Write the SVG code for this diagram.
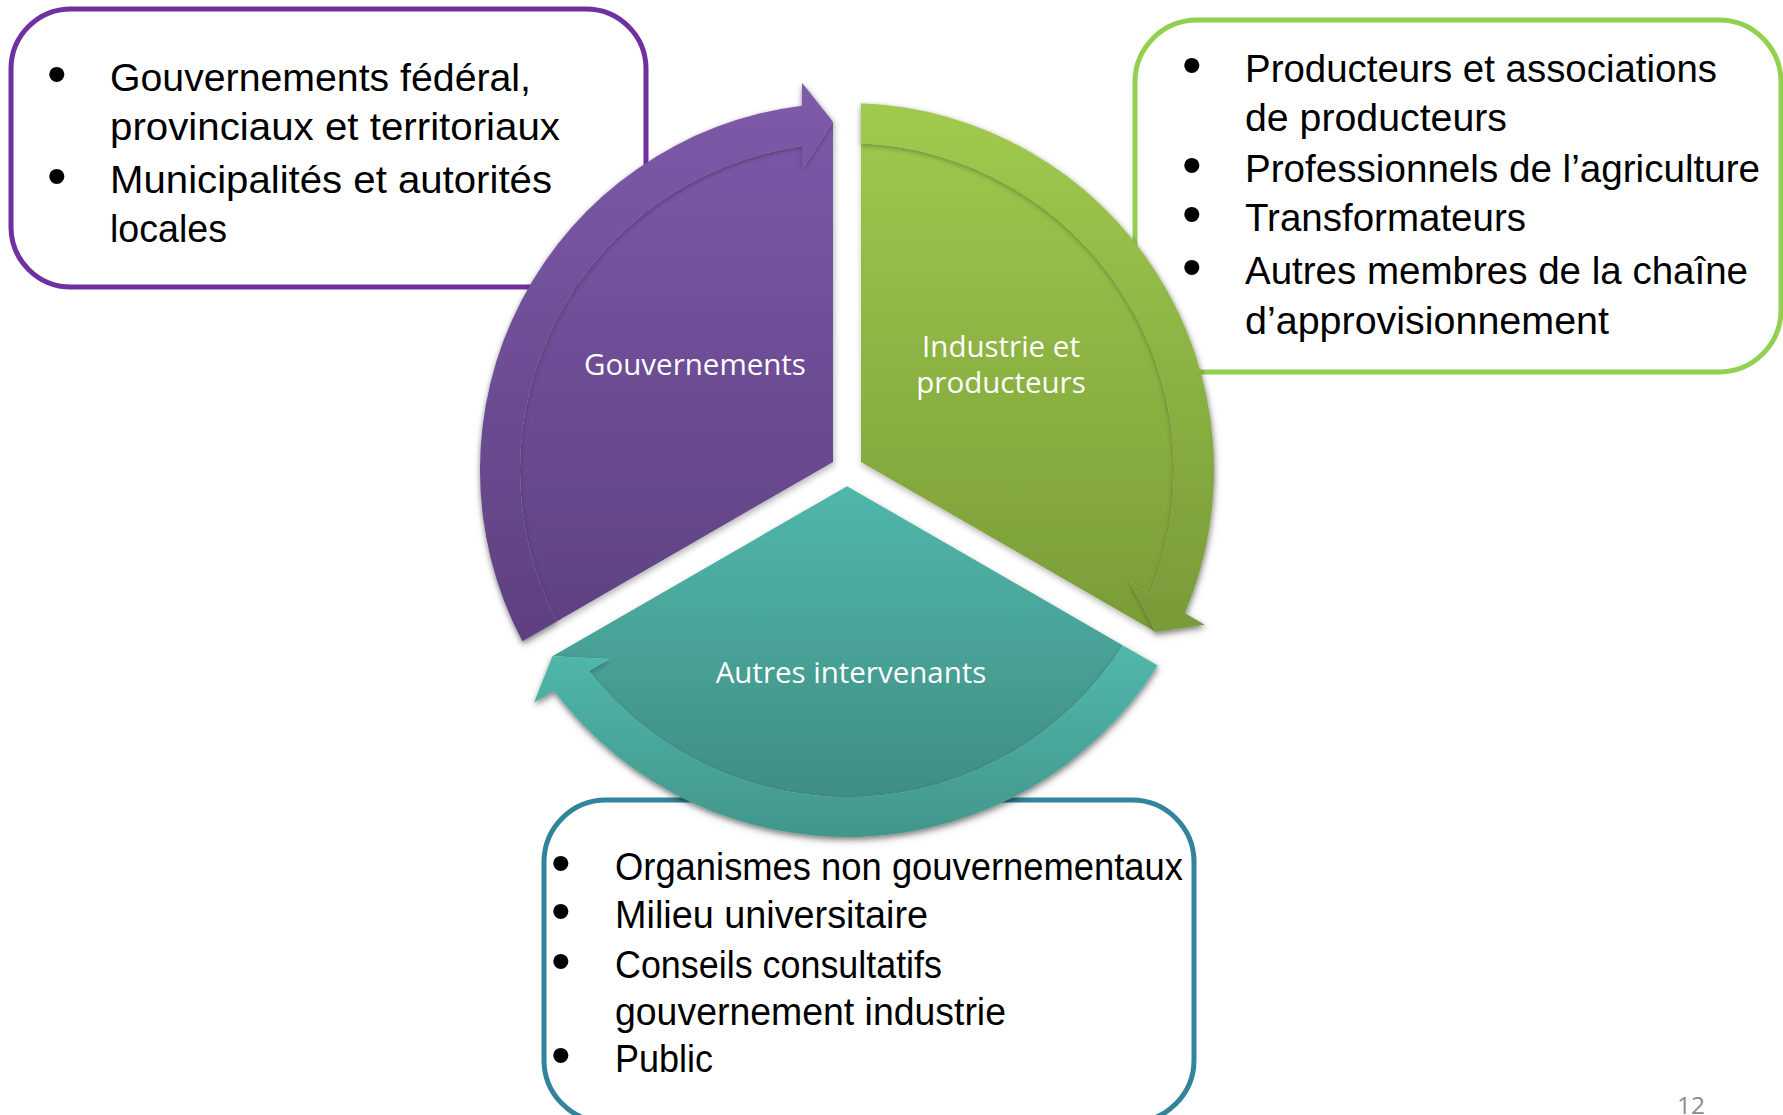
<svg xmlns="http://www.w3.org/2000/svg" width="1783" height="1115" viewBox="0 0 1783 1115">
<style>
.box{fill:#fff;stroke-width:5}
.bt{font-family:"Liberation Sans",Arial,sans-serif;font-size:38px;fill:#000}
.bu{font-family:"Liberation Sans",Arial,sans-serif;font-size:56px;fill:#000}
.lbl{font-family:"Open Sans","Noto Sans",sans-serif;font-size:29.5px;fill:#fff;text-anchor:middle}
.pg{font-family:"Open Sans","Noto Sans",sans-serif;font-size:24.5px;fill:#8C8C8C}
</style>
<defs>
<linearGradient id="gPi" x1="0" y1="0" x2="0" y2="1"><stop offset="0" stop-color="#7B59A8"/><stop offset="1" stop-color="#5F4282"/></linearGradient>
<linearGradient id="gPb" x1="0" y1="0" x2="0" y2="1"><stop offset="0" stop-color="#7D5BAA"/><stop offset="1" stop-color="#5E4080"/></linearGradient>
<linearGradient id="gGi" x1="0" y1="0" x2="0" y2="1"><stop offset="0" stop-color="#9CC64C"/><stop offset="1" stop-color="#7A9C38"/></linearGradient>
<linearGradient id="gGb" x1="0" y1="0" x2="0" y2="1"><stop offset="0" stop-color="#A0CA4E"/><stop offset="1" stop-color="#789A38"/></linearGradient>
<linearGradient id="gTi" x1="0" y1="0" x2="0" y2="1"><stop offset="0" stop-color="#51B7AA"/><stop offset="1" stop-color="#3F8E84"/></linearGradient>
<linearGradient id="gTb" x1="0" y1="0" x2="0" y2="1"><stop offset="0" stop-color="#51B8AB"/><stop offset="1" stop-color="#42968B"/></linearGradient>
<filter id="sh" x="-10%" y="-10%" width="120%" height="120%"><feDropShadow dx="1" dy="3" stdDeviation="3" flood-color="#000" flood-opacity="0.3"/></filter>
<filter id="shb" x="-10%" y="-10%" width="120%" height="120%"><feDropShadow dx="0" dy="2" stdDeviation="2.5" flood-color="#000" flood-opacity="0.28"/></filter>
</defs>

<g id="box-gouvernements">
<rect class="box" x="11" y="9" width="635" height="278" rx="60" stroke="#7030A0"/>
<text class="bu" x="47" y="93">•</text>
<text class="bt" x="110" y="91" textLength="421" lengthAdjust="spacingAndGlyphs">Gouvernements fédéral,</text>
<text class="bt" x="110" y="140" textLength="450" lengthAdjust="spacingAndGlyphs">provinciaux et territoriaux</text>
<text class="bu" x="47" y="195">•</text>
<text class="bt" x="110" y="193" textLength="442" lengthAdjust="spacingAndGlyphs">Municipalités et autorités</text>
<text class="bt" x="110" y="242" textLength="117" lengthAdjust="spacingAndGlyphs">locales</text>
</g>

<g id="box-industrie">
<rect class="box" x="1135" y="20" width="646" height="352" rx="62" stroke="#92D050"/>
<text class="bu" x="1182" y="84">•</text>
<text class="bt" x="1245" y="82" textLength="472" lengthAdjust="spacingAndGlyphs">Producteurs et associations</text>
<text class="bt" x="1245" y="131" textLength="262" lengthAdjust="spacingAndGlyphs">de producteurs</text>
<text class="bu" x="1182" y="184">•</text>
<text class="bt" x="1245" y="182" textLength="515" lengthAdjust="spacingAndGlyphs">Professionnels de l’agriculture</text>
<text class="bu" x="1182" y="233">•</text>
<text class="bt" x="1245" y="231" textLength="281" lengthAdjust="spacingAndGlyphs">Transformateurs</text>
<text class="bu" x="1182" y="286">•</text>
<text class="bt" x="1245" y="284" textLength="503" lengthAdjust="spacingAndGlyphs">Autres membres de la chaîne</text>
<text class="bt" x="1245" y="334" textLength="364" lengthAdjust="spacingAndGlyphs">d’approvisionnement</text>
</g>

<g id="box-autres">
<rect class="box" x="544" y="800" width="650" height="322" rx="62" stroke="#31849B"/>
<text class="bu" x="551" y="882">•</text>
<text class="bt" x="615" y="880" textLength="568" lengthAdjust="spacingAndGlyphs">Organismes non gouvernementaux</text>
<text class="bu" x="551" y="930">•</text>
<text class="bt" x="615" y="928" textLength="313" lengthAdjust="spacingAndGlyphs">Milieu universitaire</text>
<text class="bu" x="551" y="980">•</text>
<text class="bt" x="615" y="978" textLength="327" lengthAdjust="spacingAndGlyphs">Conseils consultatifs</text>
<text class="bt" x="615" y="1025" textLength="391" lengthAdjust="spacingAndGlyphs">gouvernement industrie</text>
<text class="bu" x="551" y="1074">•</text>
<text class="bt" x="615" y="1072" textLength="98" lengthAdjust="spacingAndGlyphs">Public</text>
</g>

<g id="connectors">
<g id="seg-gouvernements" filter="url(#sh)">
<path fill="url(#gPi)" d="M833,461.94 L557.1,621.3 A327,327 0 0 1 802,146.11 L802,170 L833,121.7 Z"/>
<path fill="url(#gPb)" filter="url(#shb)" d="M833,121.7 L802,82.7 L802,105.77 A367,367 0 0 0 522.4,641.3 L557.1,621.3 A327,327 0 0 1 802,146.11 L802,170 Z"/>
</g>
<g id="seg-industrie" filter="url(#sh)">
<path fill="url(#gGi)" d="M860.98,461.91 L860.92,143.3 A327,327 0 0 1 1149.99,592.98 L1129.3,581.03 L1155.63,632.03 Z"/>
<path fill="url(#gGb)" filter="url(#shb)" d="M1155.63,632.03 L1204.9,624.68 L1184.92,613.15 A367,367 0 0 0 860.95,103.25 L860.92,143.3 A327,327 0 0 1 1149.99,592.98 L1129.3,581.03 Z"/>
</g>
<g id="seg-autres" filter="url(#sh)">
<path fill="url(#gTi)" d="M847.02,486.15 L1122.98,645.4 A327,327 0 0 1 589.01,670.92 L609.7,658.97 L552.37,656.27 Z"/>
<path fill="url(#gTb)" filter="url(#shb)" d="M552.37,656.27 L534.1,702.62 L554.08,691.09 A367,367 0 0 0 1157.65,665.45 L1122.98,645.4 A327,327 0 0 1 589.01,670.92 L609.7,658.97 Z"/>
</g>
</g>

<g id="node-gouvernements"><text class="lbl" x="695" y="375">Gouvernements</text></g>
<g id="node-industrie"><text class="lbl" x="1001" y="357">Industrie et</text><text class="lbl" x="1001" y="393">producteurs</text></g>
<g id="node-autres"><text class="lbl" x="851" y="683">Autres intervenants</text></g>

<text class="pg" x="1677" y="1114">12</text>
</svg>
